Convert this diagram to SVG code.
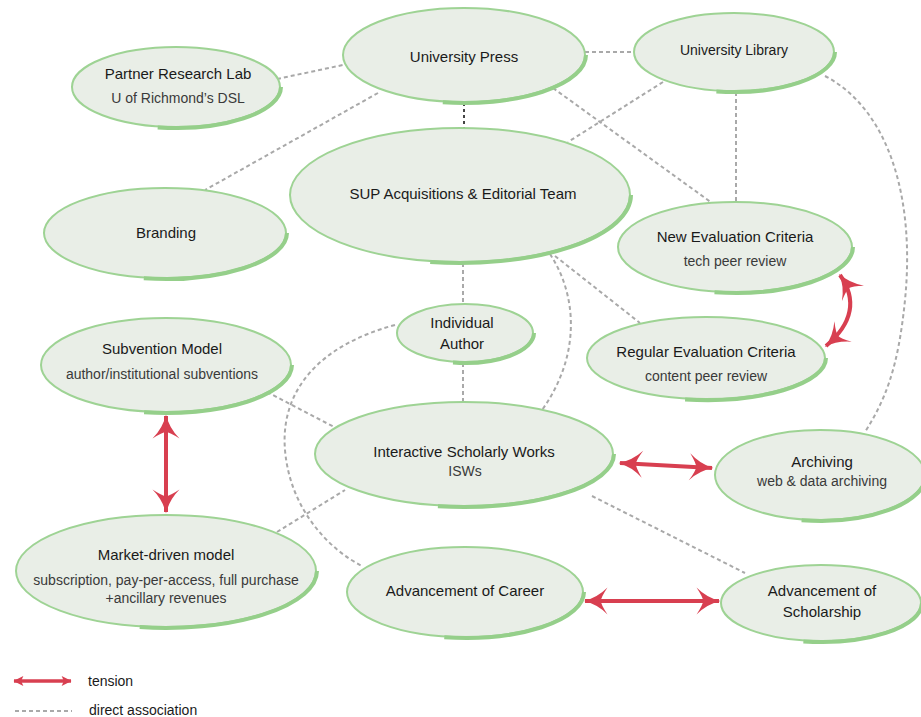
<svg xmlns="http://www.w3.org/2000/svg" width="921" height="717" viewBox="0 0 921 717">
<style>
.node{fill:#e9eee7;stroke:#9ed394;stroke-width:2}
.shade{fill:none;stroke:#95cf8a;stroke-width:4}
.t{font-family:"Liberation Sans",Arial,sans-serif;font-size:15px;fill:#1a1a1a;text-anchor:middle}
.s{font-family:"Liberation Sans",Arial,sans-serif;font-size:14px;fill:#3a3a3a;text-anchor:middle}
.dash{fill:none;stroke:#a9a9a9;stroke-width:2;stroke-dasharray:4 3}
.dark{fill:none;stroke:#444;stroke-width:2;stroke-dasharray:3 3}
.ten{fill:none;stroke:#d83f50;stroke-width:4;marker-start:url(#ah);marker-end:url(#ah)}
</style>
<defs>
<marker id="ah" viewBox="0 0 10 10" markerWidth="30" markerHeight="30" refX="9.5" refY="5" orient="auto-start-reverse" markerUnits="userSpaceOnUse">
<path d="M2,0.5 Q5.5,4 10,5 Q5.5,6 2,9.5 Q4.2,6.2 4.2,5 Q4.2,3.8 2,0.5 z" fill="#d83f50"/>
</marker>
<marker id="ahs" viewBox="0 0 10 10" markerWidth="11" markerHeight="11" refX="9.5" refY="5" orient="auto-start-reverse" markerUnits="userSpaceOnUse">
<path d="M1,0.5 L10,5 L1,9.5 L3,5 z" fill="#d83f50"/>
</marker>
</defs>
<rect width="921" height="717" fill="#ffffff"/>
<g id="connectors">
<path class="dash" d="M277,79 L343,65"/>
<path class="dash" d="M585,52 L634,52"/>
<path class="dark" d="M464,103 L464,128"/>
<path class="dash" d="M378,93 L205,190"/>
<path class="dash" d="M553,88 L712,203"/>
<path class="dash" d="M663,82 L568,142"/>
<path class="dash" d="M736,92 L736,201"/>
<path class="dash" d="M825,76 C890,110 915,200 905,300 C898,370 885,400 865,432"/>
<path class="dash" d="M463,263 L463,305"/>
<path class="dash" d="M463,363 L463,402"/>
<path class="dash" d="M550,254 C580,300 578,360 542,410"/>
<path class="dash" d="M555,256 L640,323"/>
<path class="dash" d="M395,325 C320,345 280,390 285,450 C290,510 330,550 362,566"/>
<path class="dash" d="M267,392 L336,428"/>
<path class="dash" d="M277,532 L345,490"/>
<path class="dash" d="M592,496 L745,573"/>
<path class="ten" d="M840,275 Q866,312 826,346"/>
<path class="ten" d="M166,416 L166,512"/>
<path class="ten" d="M620,463 L712,468"/>
<path class="ten" d="M585,601 L719,601"/>
</g>
<g id="press"><ellipse class="node" cx="464" cy="55" rx="121" ry="47"/><path class="shade" d="M586,55 A122 48 0 0 1 442.8,102.3"/><text class="t" x="464" y="62">University Press</text></g>
<g id="library"><ellipse class="node" cx="734" cy="52" rx="100" ry="39"/><path class="shade" d="M835,52 A101 40 0 0 1 716.4,91.4"/><text class="t" x="734" y="55" style="font-size:14px">University Library</text></g>
<g id="partner"><ellipse class="node" cx="176" cy="87" rx="104" ry="40"/><path class="shade" d="M281,87 A105 41 0 0 1 157.7,127.4"/><text class="t" x="178" y="79">Partner Research Lab</text><text class="s" x="178" y="103">U of Richmond’s DSL</text></g>
<g id="branding"><ellipse class="node" cx="165" cy="233" rx="121" ry="45"/><path class="shade" d="M287,233 A122 46 0 0 1 143.8,278.3"/><text class="t" x="166" y="238">Branding</text></g>
<g id="sup"><ellipse class="node" cx="460" cy="195" rx="170" ry="67"/><path class="shade" d="M631,195 A171 68 0 0 1 430.2,262"/><text class="t" x="463" y="199">SUP Acquisitions &amp; Editorial Team</text></g>
<g id="neweval"><ellipse class="node" cx="735" cy="247" rx="117" ry="45"/><path class="shade" d="M853,247 A118 46 0 0 1 714.5,292.3"/><text class="t" x="735" y="242">New Evaluation Criteria</text><text class="s" x="735" y="266">tech peer review</text></g>
<g id="regeval"><ellipse class="node" cx="706" cy="358" rx="119" ry="41"/><path class="shade" d="M826,358 A120 42 0 0 1 685.1,399.4"/><text class="t" x="706" y="357">Regular Evaluation Criteria</text><text class="s" x="706" y="381">content peer review</text></g>
<g id="author"><ellipse class="node" cx="465" cy="333" rx="68" ry="29"/><path class="shade" d="M534,333 A69 30 0 0 1 453,362.6"/><text class="t" x="462" y="328">Individual</text><text class="t" x="462" y="349">Author</text></g>
<g id="isw"><ellipse class="node" cx="464" cy="454" rx="149" ry="52"/><path class="shade" d="M614,454 A150 53 0 0 1 437.9,506.2"/><text class="t" x="464" y="457">Interactive Scholarly Works</text><text class="s" x="465" y="476">ISWs</text></g>
<g id="subvention"><ellipse class="node" cx="166" cy="365" rx="125" ry="47"/><path class="shade" d="M292,365 A126 48 0 0 1 144.1,412.3"/><text class="t" x="162" y="354">Subvention Model</text><text class="s" x="162" y="379">author/institutional subventions</text></g>
<g id="market"><ellipse class="node" cx="166" cy="571" rx="150" ry="56"/><path class="shade" d="M317,571 A151 57 0 0 1 139.7,627.1"/><text class="t" x="166" y="560">Market-driven model</text><text class="s" x="166" y="585">subscription, pay-per-access, full purchase</text><text class="s" x="166" y="603">+ancillary revenues</text></g>
<g id="archiving"><ellipse class="node" cx="820" cy="475" rx="105" ry="45"/><path class="shade" d="M926,475 A106 46 0 0 1 801.6,520.3"/><text class="t" x="822" y="467">Archiving</text><text class="s" x="822" y="486">web &amp; data archiving</text></g>
<g id="career"><ellipse class="node" cx="465" cy="592" rx="118" ry="45"/><path class="shade" d="M584,592 A119 46 0 0 1 444.3,637.3"/><text class="t" x="465" y="596">Advancement of Career</text></g>
<g id="scholarship"><ellipse class="node" cx="821" cy="603" rx="100" ry="38"/><path class="shade" d="M922,603 A101 39 0 0 1 803.4,641.4"/><text class="t" x="822" y="596">Advancement of</text><text class="t" x="822" y="617">Scholarship</text></g>
<g id="legend">
<path d="M14,681 L71,681" style="fill:none;stroke:#d83f50;stroke-width:3.5;marker-start:url(#ahs);marker-end:url(#ahs)"/>
<text class="s" x="88" y="686" style="text-anchor:start;fill:#1a1a1a">tension</text>
<path class="dash" d="M15,711 L72,711"/>
<text class="s" x="89" y="715" style="text-anchor:start;fill:#1a1a1a">direct association</text>
</g>
</svg>
